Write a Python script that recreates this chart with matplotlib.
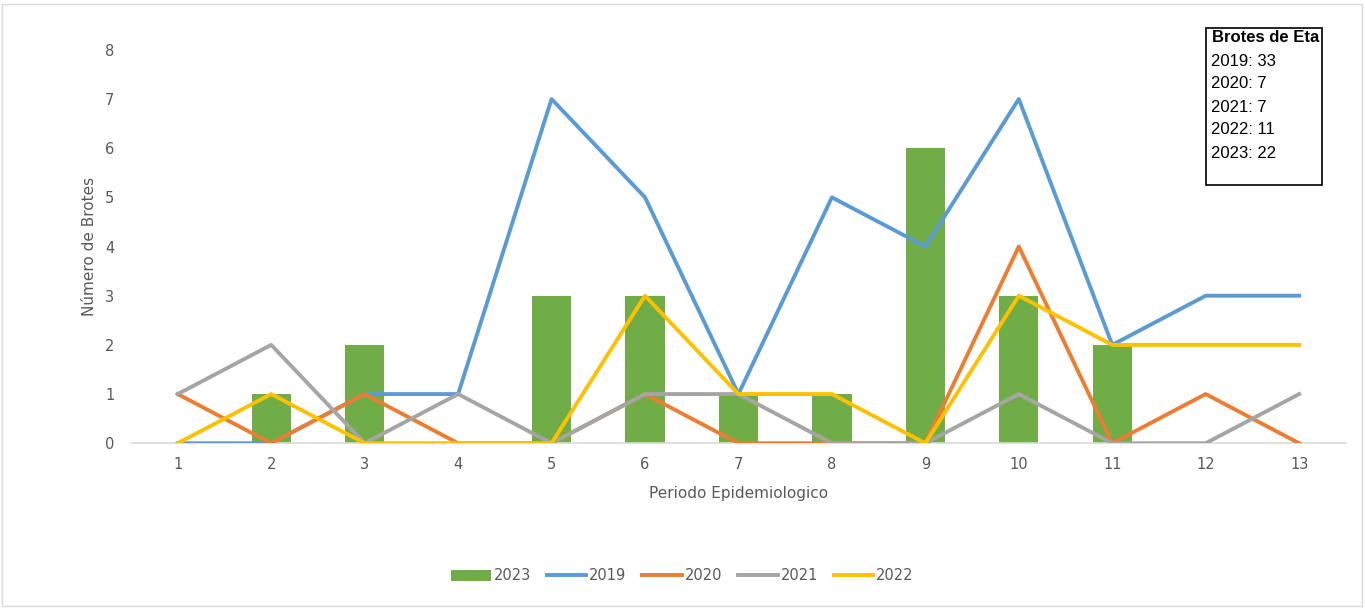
import matplotlib.pyplot as plt
from matplotlib.patches import Rectangle
import numpy as np

periodos = list(range(1, 14))
brotes_2023 = [0, 1, 2, 0, 3, 3, 1, 1, 6, 3, 2, 0, 0]
brotes_2019 = [0, 0, 1, 1, 7, 5, 1, 5, 4, 7, 2, 3, 3]
brotes_2020 = [1, 0, 1, 0, 0, 1, 0, 0, 0, 4, 0, 1, 0]
brotes_2021 = [1, 2, 0, 1, 0, 1, 1, 0, 0, 1, 0, 0, 1]
brotes_2022 = [0, 1, 0, 0, 0, 3, 1, 1, 0, 3, 2, 2, 2]
box_title = 'Brotes de Eta'
box_lines = ['2019: 33', '2020: 7', '2021: 7', '2022: 11', '2023: 22']

txt = '#595959'
fig = plt.figure(figsize=(13.65, 6.08), dpi=100)
ax = fig.add_axes([0.096, 0.271, 0.89, 0.647])

x = np.array(periodos)
ax.bar(x, brotes_2023, width=0.42, color='#70AD47', label='2023', zorder=2)
ax.plot(x, brotes_2019, color='#5B9BD5', lw=2.8, label='2019', zorder=3)
ax.plot(x, brotes_2020, color='#ED7D31', lw=2.8, label='2020', zorder=3)
ax.plot(x, brotes_2021, color='#A5A5A5', lw=2.8, label='2021', zorder=3)
ax.plot(x, brotes_2022, color='#FFC000', lw=2.8, label='2022', zorder=3)

ax.set_xlim(0.5, 13.5)
ax.set_ylim(0, 8)
ax.set_xticks(x)
ax.set_yticks(range(0, 9))
ax.tick_params(length=0, labelsize=10.5, labelcolor=txt, pad=10)
ax.tick_params(axis='y', pad=12)
for s in ['top', 'right', 'left']:
    ax.spines[s].set_visible(False)
ax.spines['bottom'].set_color('#D9D9D9')
ax.spines['bottom'].set_linewidth(1.2)
ax.set_xlabel('Periodo Epidemiologico', fontsize=11, color=txt, labelpad=10)
ax.set_ylabel('Número de Brotes', fontsize=11, color=txt, labelpad=6)

h, l = ax.get_legend_handles_labels()
order = [l.index(k) for k in ['2023', '2019', '2020', '2021', '2022']]
ax.legend([h[i] for i in order], [l[i] for i in order],
          loc='center', bbox_to_anchor=(0.5, (608 - 576) / 608), bbox_transform=fig.transFigure,
          ncol=5, frameon=False, fontsize=10.5, labelcolor=txt, handlelength=2.7,
          columnspacing=1.1, handletextpad=0.2)

# cuadro de totales
W, H = 1365, 608
fig.patches.append(Rectangle((1206 / W, 1 - 185 / H), 116 / W, 157 / H,
                             transform=fig.transFigure, fill=False, ec='black', lw=1.2))
fig.text(1212 / W, 1 - 38 / H, box_title, fontsize=12, fontweight='bold',
         family=['Liberation Sans', 'DejaVu Sans'], va='center')
for i, t in enumerate(box_lines):
    fig.text(1211 / W, 1 - (61 + i * 23) / H, t, fontsize=12,
             family=['Liberation Sans', 'DejaVu Sans'], va='center')

# borde exterior
fig.patches.append(Rectangle((2 / W, 2 / H), 1360 / W, 602 / H, transform=fig.transFigure,
                             fill=False, ec='#D9D9D9', lw=1))

fig.savefig('out.png', dpi=100)
